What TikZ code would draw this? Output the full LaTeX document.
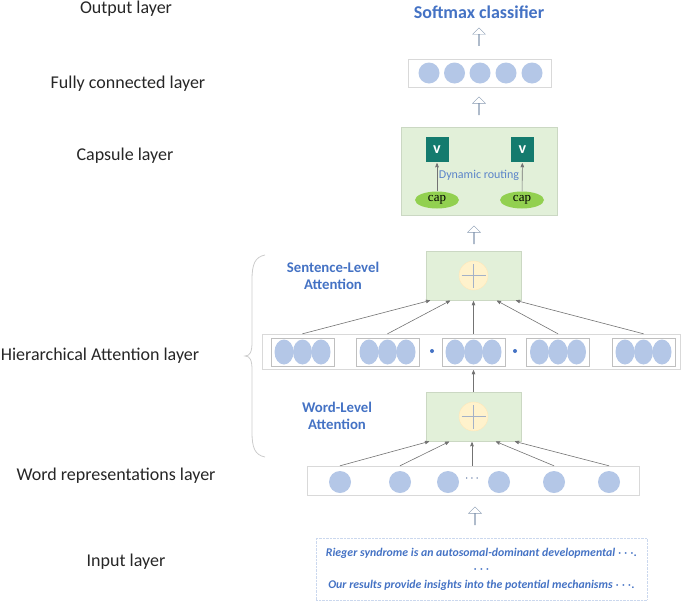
\documentclass[tikz,border=0pt]{standalone}
\usepackage{fontspec}
\setmainfont{Carlito}
\newfontfamily\capfont{Liberation Serif}
\usepackage{tikz}
\usetikzlibrary{arrows,positioning,shapes.geometric,shapes.arrows}
\definecolor{bluetxt}{HTML}{4472C4}
\definecolor{routetxt}{HTML}{5B84C9}
\definecolor{unitblue}{HTML}{B4C7E7}
\definecolor{boxgray}{HTML}{D9D9D9}
\definecolor{greenfill}{HTML}{E2F0D9}
\definecolor{capgreen}{HTML}{92D050}
\definecolor{vteal}{HTML}{147B6E}
\definecolor{sumfill}{HTML}{FFF2CC}
\definecolor{hollowgray}{HTML}{8497B0}
\tikzset{
    %Define standard arrow tip
    >=stealth',
    %Define style for the layer names
    layername/.style={
           font=\fontsize{18}{21}\selectfont,
           text=black!85},
    %Define style for blue titles
    bluetitle/.style={
           font=\fontsize{14.8}{17}\selectfont\bfseries,
           text=bluetxt,
           align=center},
    %Define style for units
    unit/.style={
           circle,
           fill=unitblue,
           minimum size=21pt,
           inner sep=0pt},
    ovalunit/.style={
           ellipse,
           fill=unitblue,
           minimum width=19pt,
           minimum height=25pt,
           inner sep=0pt},
    %Define style for boxes
    rowbox/.style={
           rectangle,
           draw=boxgray,
           fill=white,
           inner sep=0pt},
    attbox/.style={
           rectangle,
           fill=greenfill,
           draw=greenfill!90!black,
           minimum width=95pt,
           minimum height=49pt},
    sumnode/.style={
           circle,
           fill=sumfill,
           draw=sumfill!90!orange,
           minimum size=29pt,
           path picture={
             \draw[unitblue!70!gray, line width=1.5pt]
               ([xshift=-12pt]path picture bounding box.center) -- ([xshift=12pt]path picture bounding box.center)
               ([yshift=-12pt]path picture bounding box.center) -- ([yshift=12pt]path picture bounding box.center);}},
    vbox/.style={
           rectangle,
           fill=vteal,
           minimum width=23pt,
           minimum height=25pt,
           font=\fontsize{16}{18}\selectfont\bfseries,
           text=white},
    capnode/.style={
           ellipse,
           fill=capgreen,
           minimum width=44pt,
           minimum height=17pt,
           inner sep=0pt,
           font=\capfont\fontsize{13}{14}\selectfont},
    hollow/.style={
           single arrow,
           draw=hollowgray,
           fill=white,
           shape border rotate=90,
           minimum height=18pt,
           minimum width=13pt,
           single arrow head extend=3pt,
           inner sep=0pt},
    % Define arrow style
    pil/.style={
           ->,
           draw=black!55,
           line width=0.6pt,
           shorten >=1pt}
}
\begin{document}
\begin{tikzpicture}[x=1pt,y=-1pt]
\useasboundingbox (0,0) rectangle (685,600);
% layer names
\node[layername](outlbl) at (126,9){Output layer};
\node[layername](fclbl) at (128,84){Fully connected layer};
\node[layername](caplbl) at (125,156){Capsule layer};
\node[layername](hierlbl) at (100,356){Hierarchical Attention layer};
\node[layername](wordlbl) at (116,476){Word representations layer};
\node[layername](inlbl) at (126,562){Input layer};
% brace
\draw[black!20, line width=0.8pt] (265,255) .. controls (255,257) and (252,264) .. (252,280)
  -- (252,342) .. controls (252,352) and (250,356) .. (245,356)
  .. controls (250,356) and (252,360) .. (252,370)
  -- (252,432) .. controls (252,448) and (255,455) .. (265,457);
% output
\node[font=\fontsize{18}{20}\selectfont\bfseries, text=bluetxt](soft) at (479,12){Softmax classifier};
\node[hollow](a1) at (479,37){};
\node[rowbox, minimum width=143pt, minimum height=28pt](fc) at (479.5,73){};
\foreach \i/\x in {1/429,2/454.5,3/480,4/506,5/532}
  \node[unit](f\i) at (\x,73){};
\node[hollow](a2) at (479,106){};
% capsule
\node[rectangle, fill=greenfill, draw=greenfill!90!black, minimum width=156pt, minimum height=88pt](capsule) at (479,171){};
\node[vbox](v1) at (437,149.5){v};
\node[vbox](v2) at (522.5,149.5){v};
\node[capnode](c1) at (437,200){cap};
\node[capnode](c2) at (522,200){cap};
\draw[pil] (c1) -- (v1);
\draw[pil] (c2) -- (v2);
\node[font=\fontsize{12}{14}\selectfont, text=routetxt](route) at (479,175){Dynamic routing};
\node[hollow](a3) at (474,235){};
% sentence level
\node[attbox](satt) at (473.5,275.5){};
\node[sumnode] at (satt){};
\node[bluetitle](stitle) at (333,275.5){Sentence-Level\\Attention};
\node[rowbox, minimum width=418pt, minimum height=35pt](srow) at (471,351.5){};
\foreach \i/\x in {1/302.5,2/387.5,3/473.5,4/558,5/643.5}{
  \node[rowbox, draw=black!25, minimum width=63pt, minimum height=28pt](s\i) at (\x,352){};
  \foreach \d in {-18.5,0,18.5}
    \node[ovalunit] at ([xshift=\d pt]s\i.center){};
}
\fill[bluetxt] (432,351) circle (2pt) (515,351) circle (2pt);
\foreach \i/\o in {1/-42.5,2/-22.5,3/0,4/22.5,5/41.5}
  \draw[pil] (s\i.center |- srow.north) -- ([xshift=\o pt]satt.south);
% word level
\node[attbox](watt) at (473.5,416.5){};
\node[sumnode] at (watt){};
\node[bluetitle](wtitle) at (337,416){Word-Level\\Attention};
\draw[pil] (watt.north) -- (srow.south -| watt.north);
\node[rowbox, minimum width=332pt, minimum height=29pt](wrow) at (473,480.5){};
\foreach \i/\x in {1/340,2/400,3/448,4/499,5/554,6/609}
  \node[unit, minimum size=22pt](w\i) at (\x,482){};
\node[text=bluetxt!70!black, font=\fontsize{12}{14}\selectfont](wdots) at (472,479){$\cdots$};
\foreach \i/\o in {1/-43.5,2/-23.5,5/21.5,6/40.5}
  \draw[pil] (w\i.center |- wrow.north) -- ([xshift=\o pt]watt.south);
\draw[pil] (wrow.north -| wdots) -- (watt.south -| wdots);
\node[hollow](a4) at (475,516){};
% input
\node[rectangle, draw=unitblue!70, densely dotted, minimum width=331pt, minimum height=62pt](input) at (481.5,569){};
\node[text=bluetxt, font=\fontsize{11.8}{16}\selectfont\bfseries\itshape\boldmath, align=center](intext) at (input)
  {Rieger syndrome is an autosomal-dominant developmental $\cdots$.\\$\cdots$\\Our results provide insights into the potential mechanisms $\cdots$.};
\end{tikzpicture}
\end{document}
